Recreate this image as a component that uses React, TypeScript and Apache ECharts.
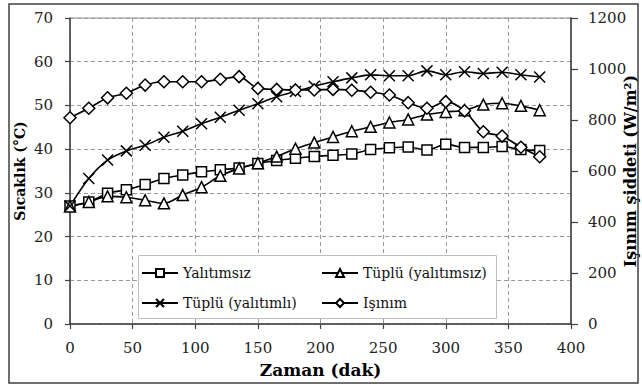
import React, { useEffect, useRef } from "react";
import * as echarts from "echarts";

const times = [0, 15, 30, 45, 60, 75, 90, 105, 120, 135, 150, 165, 180, 195, 210, 225, 240, 255, 270, 285, 300, 315, 330, 345, 360, 375];
const yalitimsiz = [27.0, 27.9, 29.9, 30.7, 31.9, 33.3, 34.1, 34.8, 35.3, 35.7, 36.7, 37.4, 37.9, 38.3, 38.6, 38.9, 39.9, 40.3, 40.5, 39.8, 41.1, 40.4, 40.4, 40.6, 39.9, 39.7];
const tupluYalitimsiz = [26.9, 27.9, 29.2, 29.0, 28.3, 27.6, 29.5, 31.3, 33.9, 35.6, 36.8, 38.3, 40.1, 41.5, 42.8, 44.1, 45.1, 46.1, 46.8, 47.9, 48.5, 48.9, 50.2, 50.5, 49.9, 48.9];
const tupluYalitimli = [27.0, 33.3, 37.5, 39.6, 40.9, 42.7, 44.1, 45.8, 47.3, 48.9, 50.4, 52.0, 53.2, 54.4, 55.4, 56.3, 57.0, 56.8, 56.8, 57.9, 57.0, 57.7, 57.3, 57.6, 57.0, 56.5];
const isinim = [809, 846, 887, 905, 937, 950, 950, 950, 960, 970, 924, 920, 918, 918, 920, 917, 909, 898, 868, 846, 872, 836, 754, 737, 693, 656];

const seriesNames = ["Yalıtımsız", "Tüplü (yalıtımsız)", "Tüplü (yalıtımlı)", "Işınım"];

const FONT = "DejaVu Serif";

function pairs(vals: number[]) {
  return times.map((t, i) => [t, vals[i]]);
}

export default function App() {
  const ref = useRef<HTMLDivElement>(null);
  useEffect(() => {
    if (!ref.current) return;
    const chart = echarts.init(ref.current, null, { renderer: "svg" });
    const lineStyle = { color: "#000", width: 1.6 };
    const hollow = { color: "#fff", borderColor: "#000", borderWidth: 1.5 };
    const legendText = { fontSize: 14, color: "#111", fontFamily: FONT, lineHeight: 20 };
    const axisName = (size: number) => ({ fontWeight: "bold", fontSize: size, color: "#000", fontFamily: FONT });
    const plainLabel = (v: number) => String(v);
    const tickLabel = { fontSize: 15, color: "#222", fontFamily: FONT, formatter: plainLabel };
    const option: any = {
      animation: false,
      backgroundColor: "#fff",
      textStyle: { fontFamily: FONT },
      grid: {
        left: 70, right: 71, top: 18, bottom: 66,
        show: true, borderColor: "#8c8c8c", borderWidth: 1, backgroundColor: "transparent",
        containLabel: false, outerBoundsMode: "none",
      },
      xAxis: {
        type: "value", min: 0, max: 400, interval: 50,
        name: "Zaman (dak)", nameLocation: "middle", nameGap: 37, nameMoveOverlap: false,
        nameTextStyle: axisName(17),
        axisLine: { show: true, lineStyle: { color: "#404040", width: 1.5 } },
        axisTick: { show: true, length: 5, lineStyle: { color: "#404040", width: 1.2 } },
        axisLabel: { margin: 16, ...tickLabel },
        splitLine: { show: true, lineStyle: { type: [4, 3], color: "#9a9a9a", width: 1 } },
      },
      yAxis: [
        {
          type: "value", position: "left", min: 0, max: 70, interval: 10,
          name: "Sıcaklık (°C)", nameLocation: "middle", nameGap: 43, nameRotate: 90, nameMoveOverlap: false,
          nameTextStyle: axisName(14),
          axisLine: { show: true, lineStyle: { color: "#404040", width: 1.5 } },
          axisTick: { show: true, length: 5, lineStyle: { color: "#404040", width: 1.2 } },
          axisLabel: { margin: 17, ...tickLabel },
          splitLine: { show: true, lineStyle: { type: [4, 3], color: "#9a9a9a", width: 1 } },
        },
        {
          type: "value", position: "right", min: 0, max: 1200, interval: 200,
          name: "Işınım şiddeti (W/m²)", nameLocation: "middle", nameGap: 51, nameRotate: 90, nameMoveOverlap: false,
          nameTextStyle: axisName(16),
          axisLine: { show: true, lineStyle: { color: "#404040", width: 1.5 } },
          axisTick: { show: true, length: 7, lineStyle: { color: "#404040", width: 1.2 } },
          axisLabel: { margin: 17, ...tickLabel },
          splitLine: { show: false },
        },
      ],
      legend: [
        {
          data: [seriesNames[0], seriesNames[2]], orient: "vertical", left: 141, top: 263,
          itemWidth: 36, itemHeight: 10, itemGap: 10, padding: 0, textStyle: legendText,
        },
        {
          data: [seriesNames[1], seriesNames[3]], orient: "vertical", left: 321, top: 263,
          itemWidth: 36, itemHeight: 10, itemGap: 10, padding: 0, textStyle: legendText,
        },
      ],
      graphic: [
        {
          type: "rect", z: 3, silent: true,
          shape: { x: 138.5, y: 255.5, width: 358, height: 63 },
          style: { fill: "#fff", stroke: "#bfbfbf", lineWidth: 1 },
        },
        {
          type: "rect", z: 10, silent: true,
          shape: { x: 9, y: 4, width: 629, height: 379 },
          style: { fill: "none", stroke: "#404040", lineWidth: 1.5 },
        },
      ],
      series: [
        {
          name: seriesNames[0], type: "line", yAxisIndex: 0, data: pairs(yalitimsiz), smooth: 0.3,
          symbol: "rect", symbolSize: 10, lineStyle, itemStyle: hollow,
        },
        {
          name: seriesNames[1], type: "line", yAxisIndex: 0, data: pairs(tupluYalitimsiz), smooth: 0.3,
          symbol: "triangle", symbolSize: 11, lineStyle, itemStyle: hollow,
        },
        {
          name: seriesNames[2], type: "line", yAxisIndex: 0, data: pairs(tupluYalitimli), smooth: 0.3,
          symbol: "path://M0,0L10,10M10,0L0,10", symbolSize: 11, lineStyle,
          itemStyle: { color: "transparent", borderColor: "#000", borderWidth: 1.5 },
        },
        {
          name: seriesNames[3], type: "line", yAxisIndex: 1, data: pairs(isinim), smooth: 0.3,
          symbol: "diamond", symbolSize: 12, lineStyle, itemStyle: hollow,
        },
      ],
    };
    chart.setOption(option);
    return () => chart.dispose();
  }, []);
  return (
    <div
      ref={ref}
      style={{ position: "fixed", left: 0, top: 0, width: 642, height: 390 }}
    />
  );
}
